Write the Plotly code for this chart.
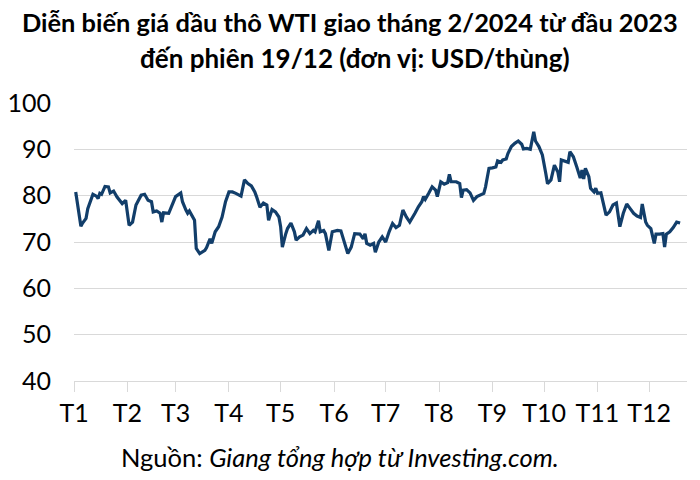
import pandas as pd
import plotly.graph_objects as go

# Day offsets from 1 Jan 2023 and WTI (Feb-2024 contract) prices, USD/barrel
days_since_jan1 = [
    1, 4, 5, 7, 8, 11, 13, 14, 15, 16, 18, 20, 21, 23, 25, 27, 28, 30, 31, 32,
    34, 36, 37, 39, 41, 43, 45, 46, 48, 50, 51, 52, 55, 57,
    59, 62, 63, 65, 66, 67, 70, 71, 73, 76, 77, 79, 80, 82, 84, 86, 88, 90,
    92, 94, 97, 99, 101, 103, 105, 106, 108, 110, 112, 113, 115, 117, 119,
    120, 121, 123, 124, 126, 128, 129, 131, 133, 135, 137, 139, 140, 142, 143,
    145, 146, 148, 150, 153, 155, 157, 159, 161, 163, 166, 168, 169, 170, 172,
    174, 175, 177, 179,
    181, 183, 185, 187, 189, 191, 193, 195, 197, 198, 200, 202, 203, 204, 206,
    208, 210, 211, 213, 215, 217, 218, 219, 222, 224, 225, 226, 228, 230, 232,
    234, 236, 238, 239,
    241, 243, 245, 246, 248, 249, 251, 252, 254, 256, 258, 260, 261, 263, 265,
    267, 268, 270, 271, 272, 274, 275, 277, 279, 281, 282, 283, 285, 287, 288,
    290, 292, 294, 295, 296, 297, 299, 300,
    302, 303, 304, 306, 307, 309, 311, 313, 315, 317, 319, 321, 323, 325, 327,
    329, 330, 332, 333, 335, 337, 338, 340, 342, 343, 344, 346, 348, 350, 352,
]
prices = [
    80.8, 73.4, 74.1, 75.1, 77.2, 80.3, 79.9, 79.4, 80.5, 80.3, 82.0, 81.9, 80.6, 81.0, 79.7, 78.7, 78.3, 79.0, 76.2, 73.6,
    74.3, 78.0, 78.7, 80.1, 80.3, 79.0, 78.7, 76.5, 76.7, 76.2, 74.3, 76.3, 76.2, 78.0,
    79.8, 80.6, 78.7, 76.9, 76.2, 76.7, 74.7, 68.6, 67.5, 68.2, 68.8, 70.7, 69.7, 72.2, 73.3, 75.4, 78.7, 80.8,
    80.8, 80.5, 79.9, 83.4, 82.6, 82.1, 80.8, 79.8, 77.5, 78.4, 78.0, 74.7, 77.0, 76.5, 75.4,
    73.3, 68.9, 71.8, 72.9, 74.1, 72.2, 70.4, 71.1, 71.5, 72.9, 71.8, 72.5, 72.2, 74.6, 72.2,
    72.5, 71.8, 68.2, 72.2, 72.5, 72.4, 70.0, 67.5, 68.9, 71.8, 71.7, 70.7, 71.8, 69.7, 69.3,
    69.7, 67.8, 70.0, 71.1,
    70.0, 72.2, 74.0, 73.1, 73.6, 76.9, 75.4, 74.3, 75.8, 76.2, 77.6, 78.7, 79.8, 79.2, 80.5,
    81.9, 81.2, 79.8, 83.0, 82.5, 82.8, 84.6, 83.0, 83.0, 82.6, 79.6, 81.2, 81.3, 80.6, 79.0,
    79.8, 80.1, 80.5, 81.9,
    85.9, 86.0, 86.2, 87.5, 87.2, 87.7, 87.9, 89.1, 90.6, 91.3, 91.8, 91.1, 90.1, 90.2, 90.0,
    93.8, 91.8, 90.6, 89.5, 88.8, 84.8, 82.6, 83.4, 86.6, 85.1, 83.0, 87.7, 87.5, 87.2, 89.5,
    88.4, 86.2, 83.8, 85.5, 83.6, 85.9, 84.1, 81.6,
    80.8, 81.6, 80.5, 80.6, 79.0, 75.8, 76.5, 78.0, 78.4, 73.3, 76.2, 78.2, 77.2, 76.2, 75.6,
    75.3, 78.2, 74.3, 73.6, 72.9, 69.7, 71.7, 71.7, 71.8, 68.9, 71.7, 72.2, 73.1, 74.3, 74.1,
]
month_starts = [f"2023-{m:02d}-01" for m in range(1, 13)]
month_labels = [f"T{m}" for m in range(1, 13)]
y_ticks = [40, 50, 60, 70, 80, 90, 100]

title_line1 = "Diễn biến giá dầu thô WTI giao tháng 2/2024 từ đầu 2023"
title_line2 = "đến phiên 19/12 (đơn vị: USD/thùng)"
source_text = "Nguồn: <i>Giang tổng hợp từ Investing.com.</i>"

dates = pd.Timestamp("2023-01-01") + pd.to_timedelta(days_since_jan1, unit="D")

fig = go.Figure()
fig.add_trace(go.Scatter(
    x=dates, y=prices, mode="lines",
    line=dict(color="#123e6a", width=3.2),
    hoverinfo="x+y",
))

FONT = "Lato"
fig.update_layout(
    width=700, height=480,
    margin=dict(l=74, r=13, t=103, b=99, autoexpand=False),
    paper_bgcolor="white", plot_bgcolor="white",
    showlegend=False,
    font=dict(family=FONT, color="#000000", size=22),
    xaxis=dict(
        type="date",
        range=["2023-01-01", "2023-12-23"],
        tickvals=month_starts, ticktext=month_labels,
        showgrid=False, zeroline=False,
        showline=True, linecolor="#d9d9d9", linewidth=1,
        ticks="outside", ticklen=10, tickcolor="#d9d9d9",
        tickfont=dict(family=FONT, size=25, color="#000000"),
        automargin=False,
        fixedrange=True,
    ),
    yaxis=dict(
        range=[40, 100], tickvals=y_ticks,
        showgrid=True, gridcolor="#d9d9d9", gridwidth=1,
        zeroline=False, showline=False, ticks="",
        ticklabelstandoff=22,
        tickfont=dict(family=FONT, size=25, color="#000000"),
        automargin=False,
        fixedrange=True,
    ),
    annotations=[
        dict(text=f"<b>{title_line1}</b>", x=0.451, xref="paper", xanchor="center",
             y=1.291, yref="paper", yanchor="middle", showarrow=False,
             font=dict(family=FONT, size=25.4, color="#000000")),
        dict(text=f"<b>{title_line2}</b>", x=0.4585, xref="paper", xanchor="center",
             y=1.162, yref="paper", yanchor="middle", showarrow=False,
             font=dict(family=FONT, size=26, color="#000000")),
        dict(text=source_text, x=0.434, xref="paper", xanchor="center",
             y=-0.273, yref="paper", yanchor="middle", showarrow=False,
             font=dict(family=FONT, size=25.5, color="#000000")),
    ],
)

fig.write_html("out.html", config={"displayModeBar": False},
               post_script="document.body.style.margin='0';")
